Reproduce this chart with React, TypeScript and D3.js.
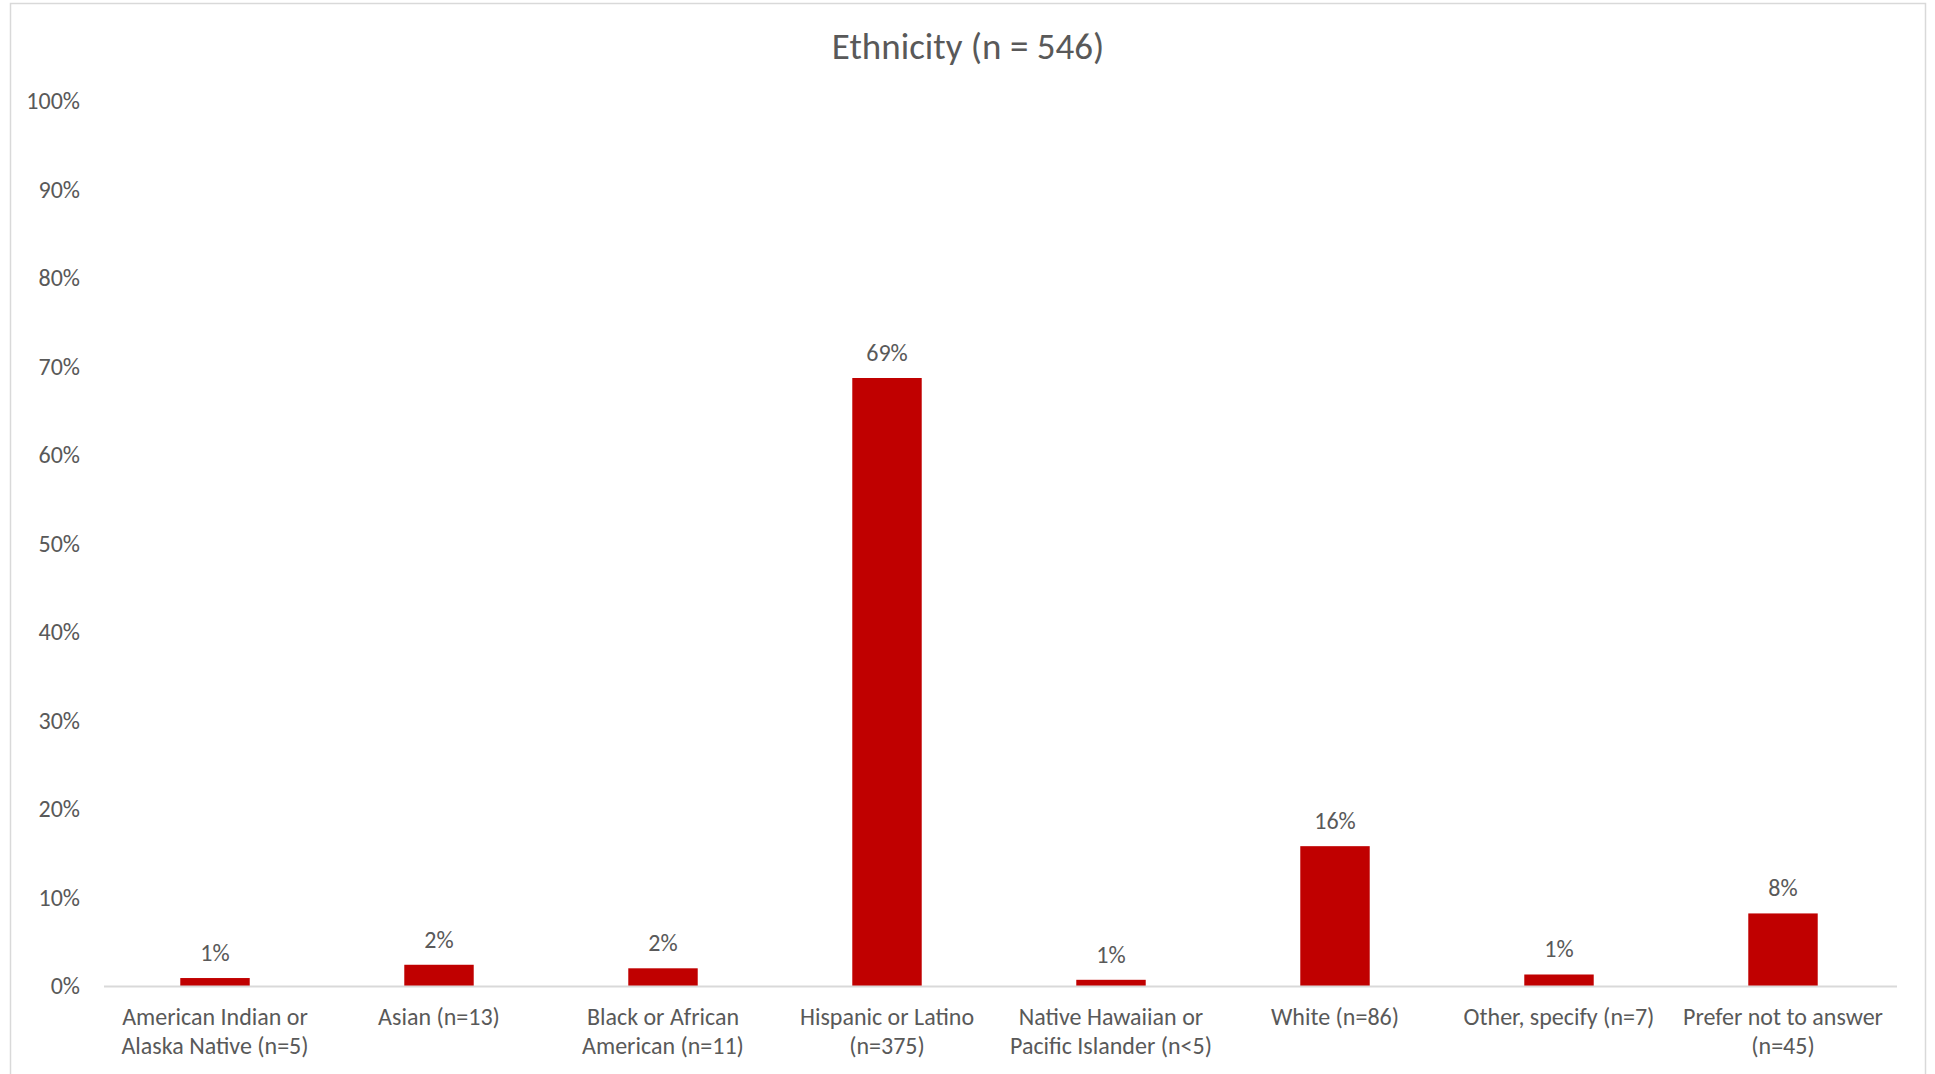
import React from "react";
import * as d3 from "d3";

const categories: string[][] = [
  ["American Indian or", "Alaska Native (n=5)"],
  ["Asian (n=13)"],
  ["Black or African", "American (n=11)"],
  ["Hispanic or Latino", "(n=375)"],
  ["Native Hawaiian or", "Pacific Islander (n<5)"],
  ["White (n=86)"],
  ["Other, specify (n=7)"],
  ["Prefer not to answer", "(n=45)"],
];
const values: number[] = [0.009, 0.024, 0.02, 0.687, 0.007, 0.158, 0.013, 0.082];
const valueLabels: string[] = ["1%", "2%", "2%", "69%", "1%", "16%", "1%", "8%"];
const yTicks: number[] = [0, 0.1, 0.2, 0.3, 0.4, 0.5, 0.6, 0.7, 0.8, 0.9, 1.0];
const title = "Ethnicity (n = 546)";

const W = 1935;
const H = 1074;
const FONT = "Carlito, Calibri, Lato, 'Open Sans', sans-serif";
const TEXT = "#595959";

export default function App() {
  const left = 103;
  const right = 1895;
  const top = 101;
  const bottom = 986;
  const x = d3
    .scaleBand<number>()
    .domain(d3.range(categories.length))
    .range([left, right])
    .paddingInner(0.69)
    .paddingOuter(0.345);
  const y = d3.scaleLinear().domain([0, 1]).range([bottom, top]);
  const fmt = d3.format(".0%");

  return (
    <svg
      width={W}
      height={H}
      style={{ position: "absolute", left: 0, top: 0, display: "block", background: "#fff" }}
    >
      <rect x={10.5} y={3.5} width={1915} height={H + 10} fill="#fff" stroke="#d9d9d9" strokeWidth={1.5} />
      <text
        x={968}
        y={59}
        textAnchor="middle"
        fontFamily={FONT}
        fontSize={37}
        fill={TEXT}
      >
        {title}
      </text>
      {yTicks.map((t) => (
        <text
          key={t}
          x={80}
          y={y(t)}
          dy="0.35em"
          textAnchor="end"
          fontFamily={FONT}
          fontSize={24}
          fill={TEXT}
        >
          {fmt(t)}
        </text>
      ))}
      {values.map((v, i) => (
        <rect
          key={i}
          x={x(i)}
          y={y(v)}
          width={x.bandwidth()}
          height={y(0) - y(v)}
          fill="#c00000"
        />
      ))}
      <line x1={104} x2={1897} y1={bottom + 0.5} y2={bottom + 0.5} stroke="#d9d9d9" strokeWidth={2} />
      {values.map((v, i) => (
        <text
          key={"l" + i}
          x={(x(i) as number) + x.bandwidth() / 2}
          y={y(v) - 17}
          textAnchor="middle"
          fontFamily={FONT}
          fontSize={24}
          fill={TEXT}
        >
          {valueLabels[i]}
        </text>
      ))}
      {categories.map((lines, i) => (
        <text
          key={"c" + i}
          x={(x(i) as number) + x.bandwidth() / 2}
          y={1025}
          textAnchor="middle"
          fontFamily={FONT}
          fontSize={24}
          fill={TEXT}
        >
          {lines.map((ln, j) => (
            <tspan key={j} x={(x(i) as number) + x.bandwidth() / 2} dy={j === 0 ? 0 : 29}>
              {ln}
            </tspan>
          ))}
        </text>
      ))}
    </svg>
  );
}
